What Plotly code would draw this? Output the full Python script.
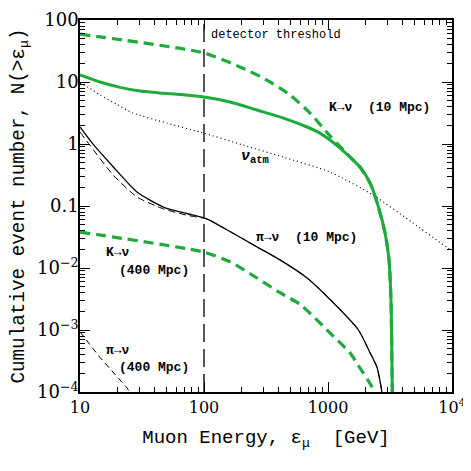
import numpy as np
import plotly.graph_objects as go

# ---- data ----
k10_solid_x = [10, 14.5, 21, 30.5, 44, 100, 162, 267, 426, 678, 861, 1038, 1250, 1503, 1811, 2183, 2484, 2885, 3105, 3221, 3300]
k10_solid_y = [13.0, 10.0, 8.2, 7.16, 6.66, 5.73, 4.75, 3.53, 2.67, 1.88, 1.50, 1.16, 0.861, 0.617, 0.425, 0.235, 0.115, 0.0367, 0.0135, 0.003, 1e-4]

k10_dash_x = [10, 100, 195, 310, 494, 716, 1038, 1503, 1811, 2183, 2484, 2885, 3105, 3221, 3300]
k10_dash_y = [59, 29.4, 17.5, 11.2, 6.17, 3.16, 1.35, 0.62, 0.425, 0.235, 0.115, 0.0367, 0.0135, 0.003, 1e-4]

atm_x = [10, 11.5, 14.5, 20, 26.7, 50, 93, 206, 434, 1038, 2307, 4840, 9290, 10000]
atm_y = [9.6, 8.3, 6.2, 4.3, 3.16, 2.18, 1.56, 0.964, 0.617, 0.353, 0.150, 0.0532, 0.021, 0.0195]

pi10_solid_x = [10, 12.5, 18.5, 28.8, 47, 75, 105, 142, 267, 410, 678, 1040, 1760, 2183, 2484, 2723]
pi10_solid_y = [1.88, 1.04, 0.43, 0.168, 0.096, 0.0743, 0.062, 0.045, 0.0219, 0.0135, 0.0069, 0.0031, 0.001, 4.3e-4, 2.5e-4, 1e-4]

pi10_dash_x = [10, 12.0, 18.5, 28.8, 47, 75, 105, 142, 267, 410, 678, 1040, 1760, 2183, 2484, 2723]
pi10_dash_y = [1.56, 0.96, 0.316, 0.14, 0.09, 0.07, 0.062, 0.045, 0.0219, 0.0135, 0.0069, 0.0031, 0.001, 4.3e-4, 2.5e-4, 1e-4]

k400_x = [10, 100, 162, 267, 410, 594, 861, 1040, 1503, 1714, 2265, 2330]
k400_y = [0.038, 0.018, 0.0126, 0.0069, 0.004, 0.0026, 0.0013, 0.00089, 4.3e-4, 2.9e-4, 1.2e-4, 1e-4]

pi400_x = [10, 14.5, 24, 25]
pi400_y = [9.3e-4, 3.6e-4, 1.16e-4, 1e-4]

threshold_x = 100

x_tickvals = [10, 100, 1000, 10000]
x_ticktext = ["10", "100", "1000", "10<sup>4</sup>"]
y_tickvals = [1e-4, 1e-3, 1e-2, 0.1, 1, 10, 100]
y_ticktext = ["10<sup>−4</sup>", "10<sup>−3</sup>", "10<sup>−2</sup>", "0.1", "1", "10", "100"]

GREEN = "#1faa3c"
MONO = "Liberation Mono"
SERIF = "DejaVu Serif"

fig = go.Figure()

fig.add_trace(go.Scatter(x=atm_x, y=atm_y, mode="lines",
                         line=dict(color="black", width=1.2, dash="1px,3px", shape="spline", smoothing=0.6)))
fig.add_trace(go.Scatter(x=pi400_x, y=pi400_y, mode="lines",
                         line=dict(color="black", width=1, dash="6px,4px")))
fig.add_trace(go.Scatter(x=pi10_dash_x, y=pi10_dash_y, mode="lines",
                         line=dict(color="black", width=1, dash="7px,4px", shape="spline", smoothing=0.6)))
fig.add_trace(go.Scatter(x=pi10_solid_x, y=pi10_solid_y, mode="lines",
                         line=dict(color="black", width=1.3, shape="spline", smoothing=0.6)))
fig.add_trace(go.Scatter(x=k400_x, y=k400_y, mode="lines",
                         line=dict(color=GREEN, width=3.2, dash="10px,6px", shape="spline", smoothing=0.6)))
fig.add_trace(go.Scatter(x=k10_solid_x, y=k10_solid_y, mode="lines",
                         line=dict(color=GREEN, width=3, shape="spline", smoothing=0.6)))
fig.add_trace(go.Scatter(x=k10_dash_x, y=k10_dash_y, mode="lines",
                         line=dict(color=GREEN, width=3.2, dash="10px,6px", shape="spline", smoothing=0.6)))

fig.add_shape(type="line", xref="x", yref="paper", x0=threshold_x, x1=threshold_x, y0=0, y1=1,
              line=dict(color="#555555", width=2, dash="18px,7px"), layer="below")


def lx(v):
    return float(np.log10(v))


ann_font = dict(family=MONO, size=13, color="black")
anns = [
    ("detector threshold", 110, 57, "left", dict(family=MONO, size=12, color="black")),
    ("<b>K→ν\u00a0\u00a0(10 Mpc)</b>", 2624, 3.81, "center", ann_font),
    ("<b><i>ν</i><sub>atm</sub></b>", 258, 0.62, "center", dict(family=MONO, size=15, color="black")),
    ("<b>π→ν\u00a0\u00a0(10 Mpc)</b>", 665, 0.0316, "center", ann_font),
    ("<b>K→ν</b>", 15.6, 0.0175, "left", ann_font),
    ("<b>(400 Mpc)</b>", 19.9, 0.00895, "left", ann_font),
    ("<b>π→ν</b>", 15.6, 4.75e-4, "left", ann_font),
    ("<b>(400 Mpc)</b>", 19.9, 2.53e-4, "left", ann_font),
]
for text, x, y, anchor, font in anns:
    fig.add_annotation(text=text, x=lx(x), y=lx(y), xref="x", yref="y", xanchor=anchor,
                       yanchor="middle", showarrow=False, font=font)


def minor_vals(lo, hi):
    vals = []
    for k in range(lo, hi):
        for d in range(2, 10):
            vals.append(d * 10 ** k)
    return vals


axis_common = dict(type="log", showline=True, linecolor="black", linewidth=1.6, mirror="ticks",
                   ticks="inside", ticklen=10, tickwidth=1.2, tickcolor="black", showgrid=False,
                   zeroline=False, tickmode="array")

fig.update_xaxes(**axis_common, range=[1, 4], tickvals=x_tickvals, ticktext=x_ticktext,
                 tickfont=dict(family=SERIF, size=16, color="black"),
                 minor=dict(tickmode="array", tickvals=minor_vals(1, 4), ticks="inside", ticklen=5,
                            tickwidth=1.1, tickcolor="black", showgrid=False),
                 title=dict(text="Muon Energy, ε<sub>μ</sub>  [GeV]", font=dict(family=MONO, size=19, color="black"),
                            standoff=14))
fig.update_yaxes(**axis_common, range=[-4, 2], tickvals=y_tickvals, ticktext=y_ticktext,
                 tickfont=dict(family=SERIF, size=18, color="black"), ticklabelstandoff=-4,
                 minor=dict(tickmode="array", tickvals=minor_vals(-4, 2), ticks="inside", ticklen=5,
                            tickwidth=1.1, tickcolor="black", showgrid=False),
                 title=dict(text="Cumulative event number, N(>ε<sub>μ</sub>)", font=dict(family=MONO, size=19.3, color="black"),
                            standoff=8))

# the page body has an 8px default margin, so the figure is sized to fit the 471px window
fig.update_layout(width=463, height=463, margin=dict(l=72, r=19, t=12, b=79, autoexpand=False),
                  plot_bgcolor="white", paper_bgcolor="white", showlegend=False)

fig.write_html("out.html")
